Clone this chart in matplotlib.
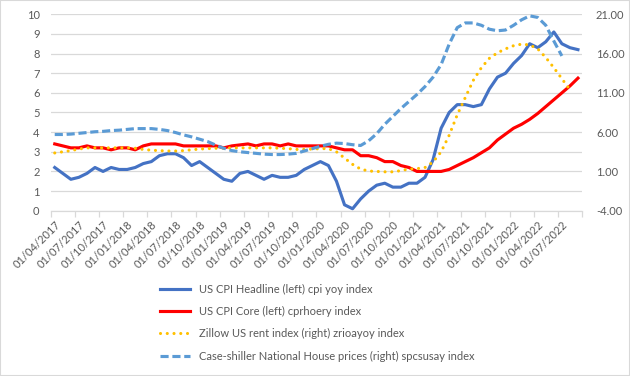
import matplotlib
matplotlib.use("Agg")
import matplotlib.pyplot as plt
import numpy as np
from matplotlib.patches import Rectangle

plt.rcParams['font.family'] = ['Lato', 'DejaVu Sans']

# monthly data, 01/04/2017 .. 01/09/2022
cpi_headline = [2.2, 1.9, 1.6, 1.7, 1.9, 2.2, 2.0, 2.2, 2.1,
                2.1, 2.2, 2.4, 2.5, 2.8, 2.9, 2.9, 2.7, 2.3, 2.5, 2.2, 1.9,
                1.6, 1.5, 1.9, 2.0, 1.8, 1.6, 1.8, 1.7, 1.7, 1.8, 2.1, 2.3,
                2.5, 2.3, 1.5, 0.3, 0.1, 0.6, 1.0, 1.3, 1.4, 1.2, 1.2, 1.4,
                1.4, 1.7, 2.6, 4.2, 5.0, 5.4, 5.4, 5.3, 5.4, 6.2, 6.8, 7.0,
                7.5, 7.9, 8.5, 8.3, 8.6, 9.1, 8.5, 8.3, 8.2]
cpi_core = [3.4, 3.3, 3.2, 3.2, 3.3, 3.2, 3.2, 3.1, 3.2,
            3.2, 3.1, 3.3, 3.4, 3.4, 3.4, 3.4, 3.3, 3.3, 3.3, 3.3, 3.3,
            3.2, 3.3, 3.35, 3.4, 3.3, 3.4, 3.4, 3.3, 3.4, 3.3, 3.3, 3.3,
            3.3, 3.3, 3.2, 3.1, 3.1, 2.8, 2.8, 2.7, 2.5, 2.5, 2.3, 2.2,
            2.0, 2.0, 2.0, 2.0, 2.1, 2.3, 2.5, 2.7, 2.95, 3.2, 3.6, 3.9,
            4.2, 4.4, 4.65, 4.95, 5.3, 5.65, 6.0, 6.35, 6.75]
zillow_rent = [3.35, 3.5, 3.65, 3.85, 4.0, 4.0, 4.0, 4.0, 4.0,
               4.0, 3.95, 3.8, 3.7, 3.65, 3.6, 3.6, 3.65, 3.75, 3.85, 3.9, 3.95,
               3.95, 4.0, 4.0, 4.0, 4.0, 4.0, 4.0, 3.95, 3.9, 3.8, 3.8, 3.85,
               3.9, 3.9, 3.5, 2.7, 1.9, 1.3, 1.05, 1.0, 0.95, 0.95, 1.1, 1.3,
               1.35, 1.5, 2.2, 3.5, 5.6, 8.2, 10.4, 12.6, 14.2, 15.4, 16.1, 16.6,
               17.0, 17.2, 17.1, 16.6, 15.5, 14.2, 12.8, 11.4]
case_shiller = [5.7, 5.7, 5.75, 5.85, 5.95, 6.05, 6.1, 6.2, 6.25,
                6.35, 6.45, 6.45, 6.45, 6.35, 6.2, 5.95, 5.65, 5.4, 5.1, 4.8, 4.35,
                3.95, 3.65, 3.5, 3.4, 3.3, 3.2, 3.15, 3.15, 3.2, 3.3, 3.6, 3.9,
                4.2, 4.45, 4.6, 4.55, 4.4, 4.3, 4.9, 5.8, 7.0, 8.0, 9.0, 9.9,
                10.8, 11.8, 13.0, 14.6, 17.2, 19.3, 19.9, 19.9, 19.6, 19.1, 18.9, 19.0,
                19.6, 20.3, 20.8, 20.6, 19.6, 17.6, 15.7]

date_labels = ['01/04/2017', '01/07/2017', '01/10/2017', '01/01/2018', '01/04/2018',
               '01/07/2018', '01/10/2018', '01/01/2019', '01/04/2019', '01/07/2019',
               '01/10/2019', '01/01/2020', '01/04/2020', '01/07/2020', '01/10/2020',
               '01/01/2021', '01/04/2021', '01/07/2021', '01/10/2021', '01/01/2022',
               '01/04/2022', '01/07/2022']

series_names = ['US CPI Headline (left) cpi yoy index',
                'US CPI Core (left) cprhoery index',
                'Zillow US rent index (right) zrioayoy index',
                'Case-shiller National House prices (right) spcsusay index']

nMonths = len(cpi_headline)
txtColor = '#595959'
gridColor = '#D9D9D9'
lw = 2.25

fig = plt.figure(figsize=(6.3, 3.76), dpi=100)
fig.patches.append(Rectangle((0, 0), 1, 1, transform=fig.transFigure,
                             fill=False, edgecolor=gridColor, linewidth=1.5))
ax = fig.add_axes([0.0805, 0.4396, 0.9238 - 0.0805, 0.962 - 0.4396])
ax2 = ax.twinx()

x = np.arange(nMonths)
l1, = ax.plot(x, cpi_headline, color='#4472C4', lw=lw, solid_joinstyle='round')
l2, = ax.plot(x, cpi_core, color='#FF0000', lw=lw, solid_joinstyle='round')
l3, = ax2.plot(np.arange(len(zillow_rent)), zillow_rent, color='#FFC000', lw=lw,
               dashes=(0.01, 2.15), dash_capstyle='round')
l4, = ax2.plot(np.arange(len(case_shiller)), case_shiller, color='#5B9BD5', lw=lw,
               dashes=(2.6, 1.2), dash_capstyle='butt')

ax.set_xlim(-0.5, nMonths - 0.5)
ax.set_ylim(0, 10)
ax2.set_ylim(-4, 21)
ax.set_yticks(range(0, 11))
ax2.set_yticks(range(-4, 22, 5))
ax2.set_yticklabels(['{:.2f}'.format(v) for v in range(-4, 22, 5)])

ax.grid(axis='y', color=gridColor, lw=0.9)
ax.set_axisbelow(True)
for a in (ax, ax2):
    for s in ('top', 'left', 'right'):
        a.spines[s].set_visible(False)
    a.spines['bottom'].set_color(gridColor)
    a.tick_params(axis='y', length=0, labelsize=8, labelcolor=txtColor)
ax.tick_params(axis='y', pad=8)
ax2.tick_params(axis='y', pad=10)

# tick marks between categories, labels every 3 months
ax.set_xticks(np.arange(-0.5, nMonths, 3), minor=True)
ax.set_xticks(np.arange(0, nMonths, 3))
ax.set_xticklabels(date_labels, rotation=45, ha='right', rotation_mode='anchor')
ax.tick_params(axis='x', which='major', length=0, labelsize=8, labelcolor=txtColor, pad=6)
ax.tick_params(axis='x', which='minor', length=4, color=gridColor, width=0.9)

fig.legend([l1, l2, l3, l4], series_names, loc='upper left',
           bbox_to_anchor=(160 / 630, 1 - 284 / 376), frameon=False,
           fontsize=8, labelcolor=txtColor, handlelength=2.7, handletextpad=0.85,
           labelspacing=1.0, borderaxespad=0, borderpad=0)

fig.savefig('out.png', dpi=100)
